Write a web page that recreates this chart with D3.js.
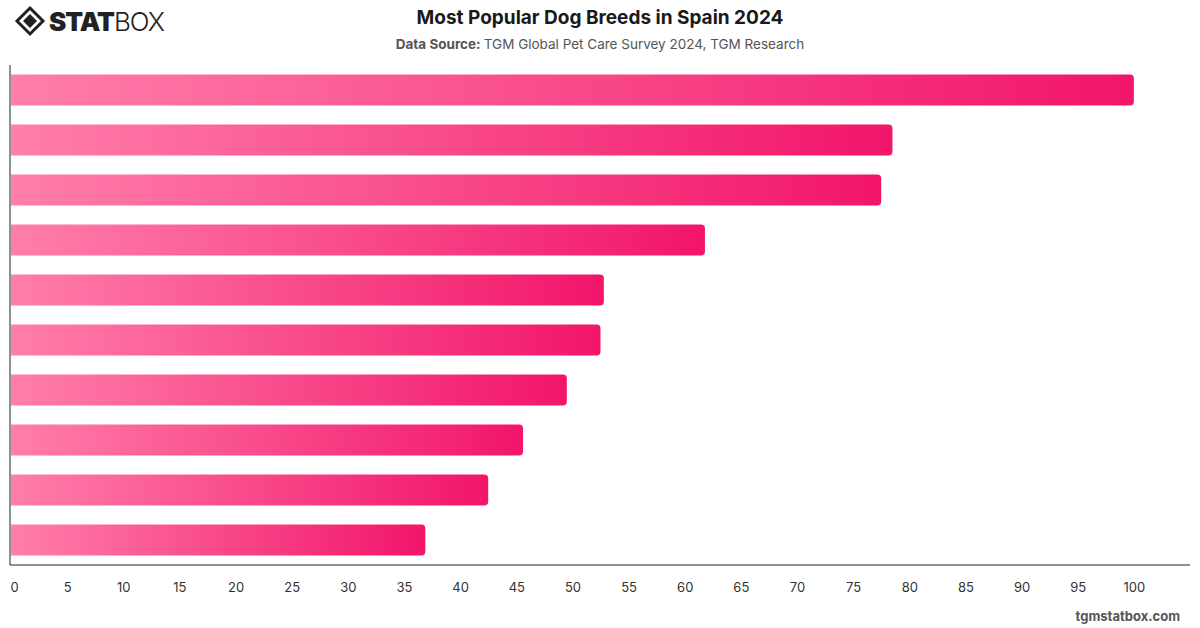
<!DOCTYPE html>
<html>
<head>
<meta charset="utf-8">
<script src="https://cdn.jsdelivr.net/npm/d3@7"></script>
<style>
  body { margin: 0; background: #fff; }
  svg { font-family: Inter, "Noto Sans", sans-serif; }
</style>
</head>
<body>
<svg id="chart" width="1200" height="628"></svg>
<script>
// ranks of the breeds (names are not shown in the chart)
const ranks = ["1", "2", "3", "4", "5", "6", "7", "8", "9", "10"];
const shares = [100, 78.5, 77.5, 61.8, 52.8, 52.5, 49.5, 45.6, 42.5, 36.9];
const tickValues = d3.range(0, 101, 5);

const data = ranks.map((r, i) => ({ rank: r, value: shares[i] }));

const margin = { top: 65, right: 10, bottom: 63, left: 11 };
const width = 1200, height = 628;

const svg = d3.select('#chart');

const x = d3.scaleLinear().domain([0, 105]).range([margin.left, width - margin.right]);
const y = d3.scaleBand().domain(ranks).range([margin.top, height - margin.bottom]).paddingInner(0.38).paddingOuter(0.19);

const defs = svg.append('defs');
const grad = defs.append('linearGradient').attr('id', 'barGrad')
  .attr('x1', '0%').attr('x2', '100%').attr('y1', '0%').attr('y2', '0%');
grad.append('stop').attr('offset', '0%').attr('stop-color', '#ff7eab');
grad.append('stop').attr('offset', '100%').attr('stop-color', '#f2156a');

// bars: square left edge, rounded right end
const r = 4;
svg.append('g').selectAll('path')
  .data(data).enter().append('path')
  .attr('d', d => {
    const x0 = x(0), x1 = x(d.value), y0 = y(d.rank), h = y.bandwidth();
    return `M${x0},${y0} H${x1 - r} Q${x1},${y0} ${x1},${y0 + r} V${y0 + h - r} Q${x1},${y0 + h} ${x1 - r},${y0 + h} H${x0} Z`;
  })
  .attr('fill', 'url(#barGrad)');

// axes lines
svg.append('line')
  .attr('x1', x(0) - 1).attr('x2', x(0) - 1)
  .attr('y1', margin.top).attr('y2', height - margin.bottom)
  .attr('stroke', '#222').attr('stroke-width', 1);

const xAxis = d3.axisBottom(x).tickValues(tickValues).tickSize(0).tickPadding(18);
const gx = svg.append('g')
  .attr('transform', `translate(0,${height - margin.bottom})`)
  .call(xAxis);
gx.select('.domain').attr('stroke', '#222').attr('d', `M${x(0) - 1},0H${width - margin.right}`);
gx.selectAll('text')
  .attr('font-size', '13px')
  .attr('fill', '#333')
  .attr('font-family', 'Inter, "Noto Sans", sans-serif')
  .attr('dx', (d) => d === 0 ? '3px' : '0');

// title
svg.append('text')
  .text('Most Popular Dog Breeds in Spain 2024')
  .attr('x', 600).attr('y', 24)
  .attr('text-anchor', 'middle')
  .attr('font-size', '19px')
  .attr('font-weight', 700)
  .attr('fill', '#1a1a1a');

const sub = svg.append('text')
  .attr('x', 600).attr('y', 49)
  .attr('text-anchor', 'middle')
  .attr('font-size', '13.5px')
  .attr('fill', '#555');
sub.append('tspan').text('Data Source: ').attr('font-weight', 700);
sub.append('tspan').text('TGM Global Pet Care Survey 2024, TGM Research');

// footer
svg.append('text')
  .text('tgmstatbox.com')
  .attr('x', 1180).attr('y', 621)
  .attr('text-anchor', 'end')
  .attr('font-size', '13px')
  .attr('font-weight', 700)
  .attr('fill', '#555');

// logo
const logo = svg.append('g').attr('transform', 'translate(30,21)');
logo.append('path')
  .attr('d', 'M0,-13 L13,0 L0,13 L-13,0 Z')
  .attr('fill', 'none').attr('stroke', '#222').attr('stroke-width', 3);
logo.append('path')
  .attr('d', 'M0,-7 L7,0 L0,7 L-7,0 Z')
  .attr('fill', '#222');
const lt = svg.append('text')
  .attr('x', 49).attr('y', 31)
  .attr('font-size', '26px')
  .attr('fill', '#222')
  .attr('font-family', 'Inter, "Noto Sans", sans-serif');
lt.append('tspan').text('STAT').attr('font-weight', 900).attr('letter-spacing', '-1px');
lt.append('tspan').text('BOX').attr('font-weight', 300).attr('letter-spacing', '-1px');
</script>
</body>
</html>
